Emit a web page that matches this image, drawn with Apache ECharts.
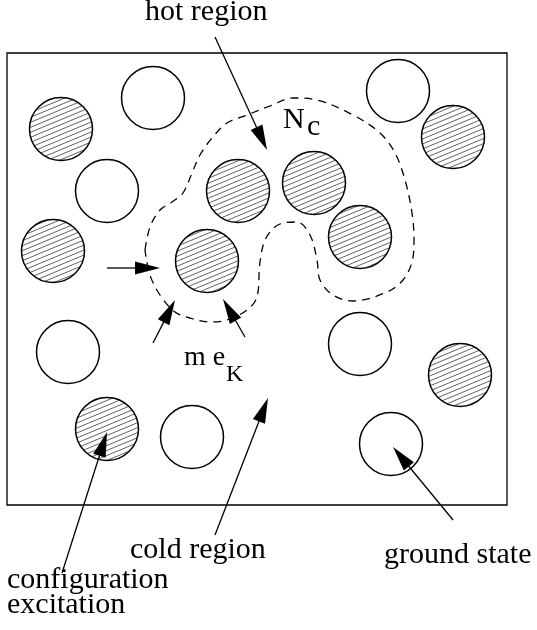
<!DOCTYPE html>
<html><head><meta charset="utf-8">
<script src="https://cdn.jsdelivr.net/npm/echarts@6/dist/echarts.min.js"></script>
<style>html,body{margin:0;padding:0;background:#fff}#c{width:537px;height:630px}</style>
</head><body><div id="c"></div>
<script>
// ---- data (diagram coordinates) ----
const hatchedCircles = [[61,129],[238,191],[53,251],[207,261],[314,183],[360,237],[453,137],[107,429],[460,375]];
const openCircles = [[153,98],[107,191],[398,91],[68,352],[192,437],[360,344],[391,444]];
const hotContour = [[145,250],[150,227],[160,210],[172,202],[183,193],[192,173],[200,155],[212,138],[227,123],[247,115],[270,106],[293,98],[317,100],[353,115],[380,133],[395,153],[405,180],[412,213],[414,240],[412,262],[403,280],[387,292],[353,301],[333,295],[320,280],[317,260],[310,235],[297,222],[280,224],[266,238],[260,262],[257,297],[247,310],[227,320],[210,322],[190,318],[175,312],[160,295],[150,275],[145,250]];
const arrows = [[215,37,267,150],[107,268,160,268],[153,343,175,300],[245,337,223,299],[215,535,268,398],[62,573,107,432],[453,520,393,447]];
const frameBox = [[7,53,507,505]];
const labelTexts = ['hot region','N','c','m e','K','cold region','ground state','configuration','excitation'];
const labelAnchors = [[145,22],[283,130],[307,137],[184,367],[226,383],[130,560],[384,565],[7,590],[7,615]];

// ---- styles ----
const R = 31.5;
const FONT = '"Liberation Serif", "Times New Roman", serif';
function labelSize(t){ return t === 'K' ? 24 : (t === 'm e' ? 28 : 30); }

const tile = document.createElement('canvas');
tile.width = 12; tile.height = 5;
(function(){
  const g = tile.getContext('2d');
  g.strokeStyle = '#3a3a3a'; g.lineWidth = 0.8;
  for (let k = -2; k <= 2; k++) {
    g.beginPath();
    g.moveTo(-12, 5 + 5 + 5*k);
    g.lineTo(24, 5 - 10 + 5*k);
    g.stroke();
  }
})();
const hatch = { image: tile, repeat: 'repeat' };

const chart = echarts.init(document.getElementById('c'), null, {renderer:'canvas'});
function circleSeries(data, fill){
  return {
    type:'custom', data, animation:false, silent:true, clip:false,
    renderItem(params, api){
      const c = api.coord([api.value(0), api.value(1)]);
      const r = api.size([R, 0])[0];
      return {type:'circle', shape:{cx:c[0], cy:c[1], r}, style:{fill, stroke:'#000', lineWidth:1.5}};
    }
  };
}
chart.setOption({
  animation:false,
  backgroundColor:'#fff',
  grid:{left:0, right:0, top:0, bottom:0},
  xAxis:{type:'value', min:0, max:537, show:false},
  yAxis:{type:'value', min:0, max:630, inverse:true, show:false},
  series:[
    { type:'custom', data:frameBox, silent:true, clip:false,
      renderItem(params, api){
        const a = api.coord([api.value(0), api.value(1)]);
        const b = api.coord([api.value(2), api.value(3)]);
        return {type:'rect', shape:{x:a[0], y:a[1], width:b[0]-a[0], height:b[1]-a[1]}, style:{fill:'none', stroke:'#000', lineWidth:1.3}};
      }
    },
    { type:'line', data:hotContour, smooth:0.35, symbol:'none', silent:true,
      lineStyle:{color:'#000', width:1.3, type:[8,6]} },
    circleSeries(hatchedCircles, hatch),
    circleSeries(openCircles, '#fff'),
    { type:'custom', data:arrows, silent:true, clip:false,
      renderItem(params, api){
        const p1 = api.coord([api.value(0), api.value(1)]);
        const p2 = api.coord([api.value(2), api.value(3)]);
        const dx = p2[0]-p1[0], dy = p2[1]-p1[1], L = Math.hypot(dx, dy);
        const ux = dx/L, uy = dy/L, head = 25, hw = 6.5;
        const bx = p2[0]-ux*head, by = p2[1]-uy*head;
        return {type:'group', children:[
          {type:'line', shape:{x1:p1[0], y1:p1[1], x2:bx+ux*3, y2:by+uy*3}, style:{stroke:'#000', lineWidth:1.3}},
          {type:'polygon', shape:{points:[[p2[0],p2[1]],[bx-uy*hw, by+ux*hw],[bx+uy*hw, by-ux*hw]]}, style:{fill:'#000'}}
        ]};
      }
    },
    { type:'custom', data:labelAnchors, silent:true, clip:false,
      renderItem(params, api){
        const t = labelTexts[params.dataIndex];
        const s = labelSize(t);
        const p = api.coord([api.value(0), api.value(1)]);
        return {type:'text', x:p[0], y:p[1] - 0.3375*s,
          style:{text:t, fill:'#000', font: s + 'px ' + FONT, align:'left', verticalAlign:'middle'}};
      }
    }
  ]
});
</script></body></html>
